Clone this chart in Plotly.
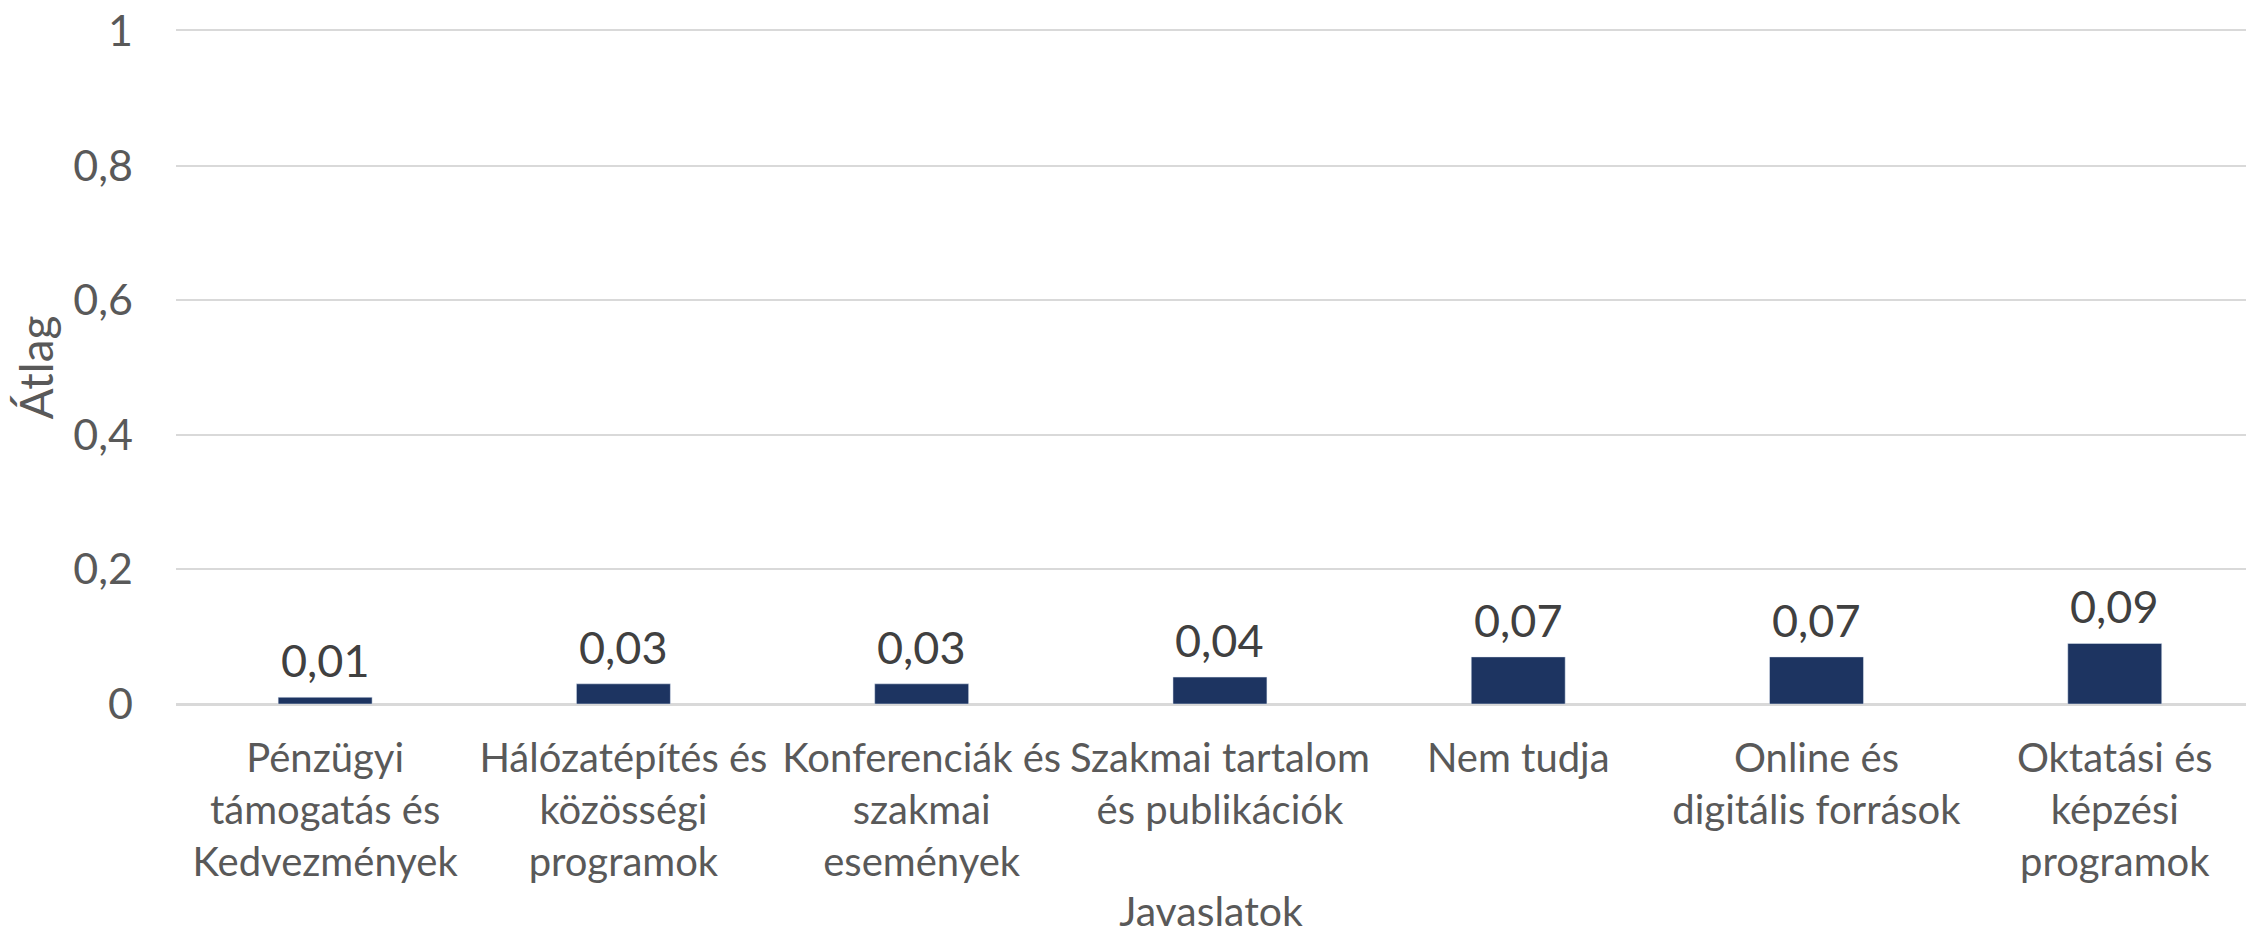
import plotly.graph_objects as go

# Javaslatok és átlagok
categories = [
    "Pénzügyi<br>támogatás és<br>Kedvezmények",
    "Hálózatépítés és<br>közösségi<br>programok",
    "Konferenciák és<br>szakmai<br>események",
    "Szakmai tartalom<br>és publikációk",
    "Nem tudja",
    "Online és<br>digitális források",
    "Oktatási és<br>képzési<br>programok",
]
values = [0.01, 0.03, 0.03, 0.04, 0.07, 0.07, 0.09]
y_ticks = [0, 0.2, 0.4, 0.6, 0.8, 1]

font_family = "Lato, 'Open Sans', sans-serif"

fig = go.Figure(
    go.Bar(
        x=categories,
        y=values,
        marker_color="#1D3461",
        cliponaxis=False,
    )
)

# értékcímkék az oszlopok fölött
for cat, val in zip(categories, values):
    fig.add_annotation(
        x=cat,
        y=val,
        text=f"{val:.2f}".replace(".", ","),
        showarrow=False,
        yanchor="bottom",
        yshift=8,
        font=dict(size=45, color="#404040", family=font_family),
    )

fig.update_layout(
    width=2238,
    height=927,
    margin=dict(l=168, r=0, t=23, b=231),
    paper_bgcolor="white",
    plot_bgcolor="white",
    separators=", ",
    bargap=0.685,
    showlegend=False,
    font=dict(family=font_family, color="#595959"),
    xaxis=dict(
        title=dict(text="Javaslatok", font=dict(size=41, color="#595959"), standoff=42),
        tickfont=dict(size=40, color="#595959"),
        tickangle=0,
        ticklabelstandoff=18,
        range=[-0.5, 6.44],
        showgrid=False,
        showline=True,
        mirror=True,
        linecolor="#D9D9D9",
        linewidth=2,
        automargin=False,
    ),
    yaxis=dict(
        title=dict(text="Átlag", font=dict(size=46, color="#595959"), standoff=10),
        range=[0, 1],
        tickvals=y_ticks,
        tickfont=dict(size=43, color="#595959"),
        ticklabelstandoff=42,
        ticklabeloverflow="allow",
        gridcolor="#D9D9D9",
        gridwidth=2,
        zeroline=True,
        zerolinecolor="#D9D9D9",
        zerolinewidth=2,
        automargin=False,
    ),
)

fig.write_html("out.html")
